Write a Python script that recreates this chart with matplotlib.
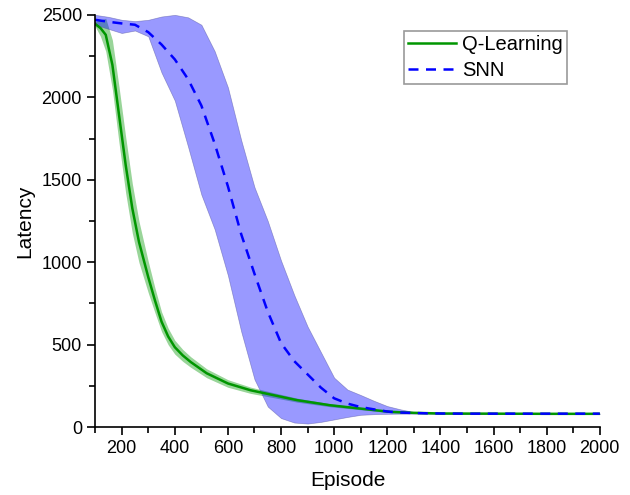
import matplotlib.pyplot as plt
from matplotlib.ticker import MultipleLocator

plt.rcParams['font.family'] = ['Liberation Sans', 'DejaVu Sans']

# Q-Learning mean and band half-width
q_x = [100, 120, 140, 165, 190, 215, 240, 265, 300, 325, 350, 375, 400, 430, 460, 520,
       600, 685, 772, 860, 985, 1098, 1211, 1300, 1400, 1600, 1800, 2000]
q_mean = [2445, 2420, 2379, 2197, 1893, 1590, 1327, 1124, 910, 770, 640, 550, 485, 435, 395, 327,
          265, 224, 194, 164, 133, 113, 93, 87, 83, 82, 81, 81]
q_err = [15, 50, 100, 150, 170, 170, 150, 125, 95, 75, 60, 50, 42, 36, 32, 27,
         23, 19, 15, 12, 9, 7, 5, 4, 3, 3, 3, 3]

# SNN mean, upper and lower band
snn_x = [100, 150, 200, 250, 300, 350, 400, 450, 500, 550, 600, 650, 700, 750, 800, 850, 900,
         950, 1000, 1050, 1100, 1150, 1200, 1250, 1300, 1350, 1400, 1500, 1600, 1700, 1800, 1900, 2000]
snn_mean = [2470, 2458, 2448, 2440, 2395, 2320, 2230, 2110, 1950, 1720, 1460, 1170, 930, 700, 510,
            400, 320, 240, 175, 143, 122, 108, 95, 89, 86, 84, 83, 82, 82, 82, 82, 82, 82]
snn_upper = [2500, 2488, 2470, 2462, 2470, 2490, 2500, 2485, 2440, 2280, 2060, 1740, 1455, 1250, 1010,
             800, 610, 455, 300, 228, 195, 160, 128, 108, 92, 86, 84, 83, 83, 83, 83, 83, 83]
snn_lower = [2440, 2415, 2390, 2405, 2370, 2150, 1980, 1700, 1410, 1200, 920, 580, 290, 125, 55,
             28, 22, 32, 47, 62, 75, 79, 81, 82, 82, 82, 82, 81, 81, 81, 81, 81, 81]

fig = plt.figure(figsize=(6.3, 4.95), dpi=100)
ax = fig.add_axes([0.151, 0.137, 0.801, 0.833])

green = '#009600'
q_lo = [m - e for m, e in zip(q_mean, q_err)]
q_hi = [m + e for m, e in zip(q_mean, q_err)]
ax.fill_between(q_x, q_lo, q_hi, color=green, alpha=0.4, lw=0)
ax.plot(q_x, q_mean, color=green, lw=1.8, label='Q-Learning')

ax.fill_between(snn_x, snn_lower, snn_upper, facecolor=(0, 0, 1, 0.4),
                edgecolor=(0.3, 0.3, 0.6, 0.5), lw=0.5)
ax.plot(snn_x, snn_mean, color='#0000ff', lw=1.8, ls=(0, (4, 3)), label='SNN')

ax.set_xlim(100, 2000)
ax.set_ylim(0, 2500)
ax.xaxis.set_major_locator(MultipleLocator(200))
ax.xaxis.set_minor_locator(MultipleLocator(100))
ax.yaxis.set_major_locator(MultipleLocator(500))
ax.yaxis.set_minor_locator(MultipleLocator(250))
ax.tick_params(which='major', direction='out', length=6, width=1.2, labelsize=13)
ax.tick_params(which='minor', direction='out', length=4, width=1.2)
for s in ['top', 'right']:
    ax.spines[s].set_visible(False)
for s in ['left', 'bottom']:
    ax.spines[s].set_linewidth(1.2)

ax.set_xlabel('Episode', fontsize=15, labelpad=10)
ax.set_ylabel('Latency', fontsize=15, labelpad=5)

leg = ax.legend(loc='upper left', bbox_to_anchor=(0.612, 0.96), fontsize=14.5, frameon=True,
                fancybox=False, edgecolor='#808080', handlelength=2.4, handletextpad=0.3,
                borderpad=0.2, labelspacing=0.35, borderaxespad=0)
leg.get_frame().set_linewidth(1.2)

plt.savefig('out.png', dpi=100)
